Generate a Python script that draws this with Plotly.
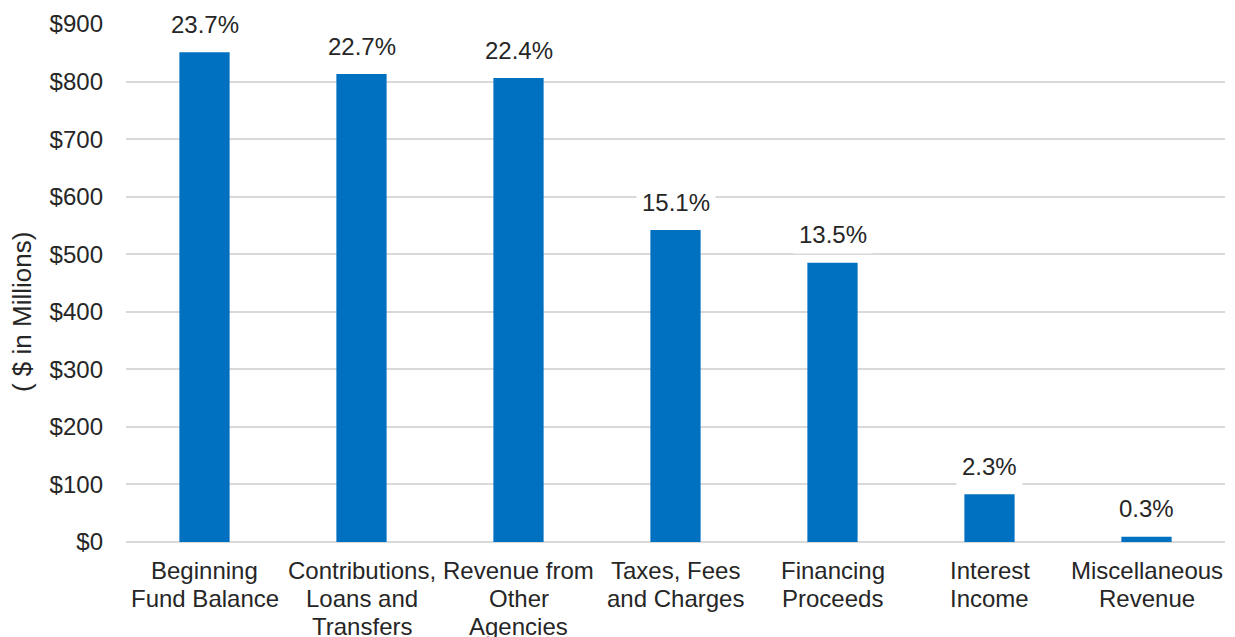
import plotly.graph_objects as go

categories = ["Beginning<br>Fund Balance", "Contributions,<br>Loans and<br>Transfers",
              "Revenue from<br>Other<br>Agencies", "Taxes, Fees<br>and Charges",
              "Financing<br>Proceeds", "Interest<br>Income", "Miscellaneous<br>Revenue"]
values = [851, 813, 806, 542, 485, 83, 9]
pct_labels = ["23.7%", "22.7%", "22.4%", "15.1%", "13.5%", "2.3%", "0.3%"]
y_ticks = [0, 100, 200, 300, 400, 500, 600, 700, 800, 900]
y_ticktext = ["$" + str(v) for v in y_ticks]
y_title = "( $ in Millions)"

FONT = "Liberation Sans, Arial, sans-serif"
keys = list(range(len(categories)))

fig = go.Figure(go.Bar(x=keys, y=values, marker=dict(color="#0070C0", line=dict(width=0)),
                       width=0.32, hoverinfo="skip"))

annotations = []
for k, v, t in zip(keys, values, pct_labels):
    annotations.append(dict(x=k, y=v, xref="x", yref="y", text=t, showarrow=False,
                            yanchor="middle", yshift=28, bgcolor="white", borderpad=5,
                            font=dict(family=FONT, size=24, color="#262626")))
for k, c in zip(keys, categories):
    for i, line in enumerate(c.split("<br>")):
        annotations.append(dict(x=k, y=0, xref="x", yref="y", text=line, showarrow=False,
                                yanchor="middle", yshift=-28 - 28 * i,
                                font=dict(family=FONT, size=24, color="#262626")))
annotations.append(dict(x=-0.0946, y=0.444, xref="paper", yref="paper", text=y_title,
                        showarrow=False, textangle=-90, xanchor="center", yanchor="middle",
                        font=dict(family=FONT, size=26, color="#262626")))

fig.update_layout(
    width=1235, height=637,
    margin=dict(l=126, r=10, t=24, b=95),
    paper_bgcolor="white", plot_bgcolor="white",
    showlegend=False,
    annotations=annotations,
    xaxis=dict(range=[-0.5, len(categories) - 0.5], showticklabels=False, showgrid=False,
               zeroline=False, showline=False, ticks=""),
    yaxis=dict(range=[0, 900], tickvals=y_ticks, ticktext=y_ticktext, showgrid=True,
               gridcolor="#d9d9d9", gridwidth=1.5, zeroline=True, zerolinecolor="#d9d9d9",
               zerolinewidth=1.5, ticks="", ticklabelstandoff=22,
               tickfont=dict(family=FONT, size=24, color="#262626")),
)

fig.write_html("out.html")
